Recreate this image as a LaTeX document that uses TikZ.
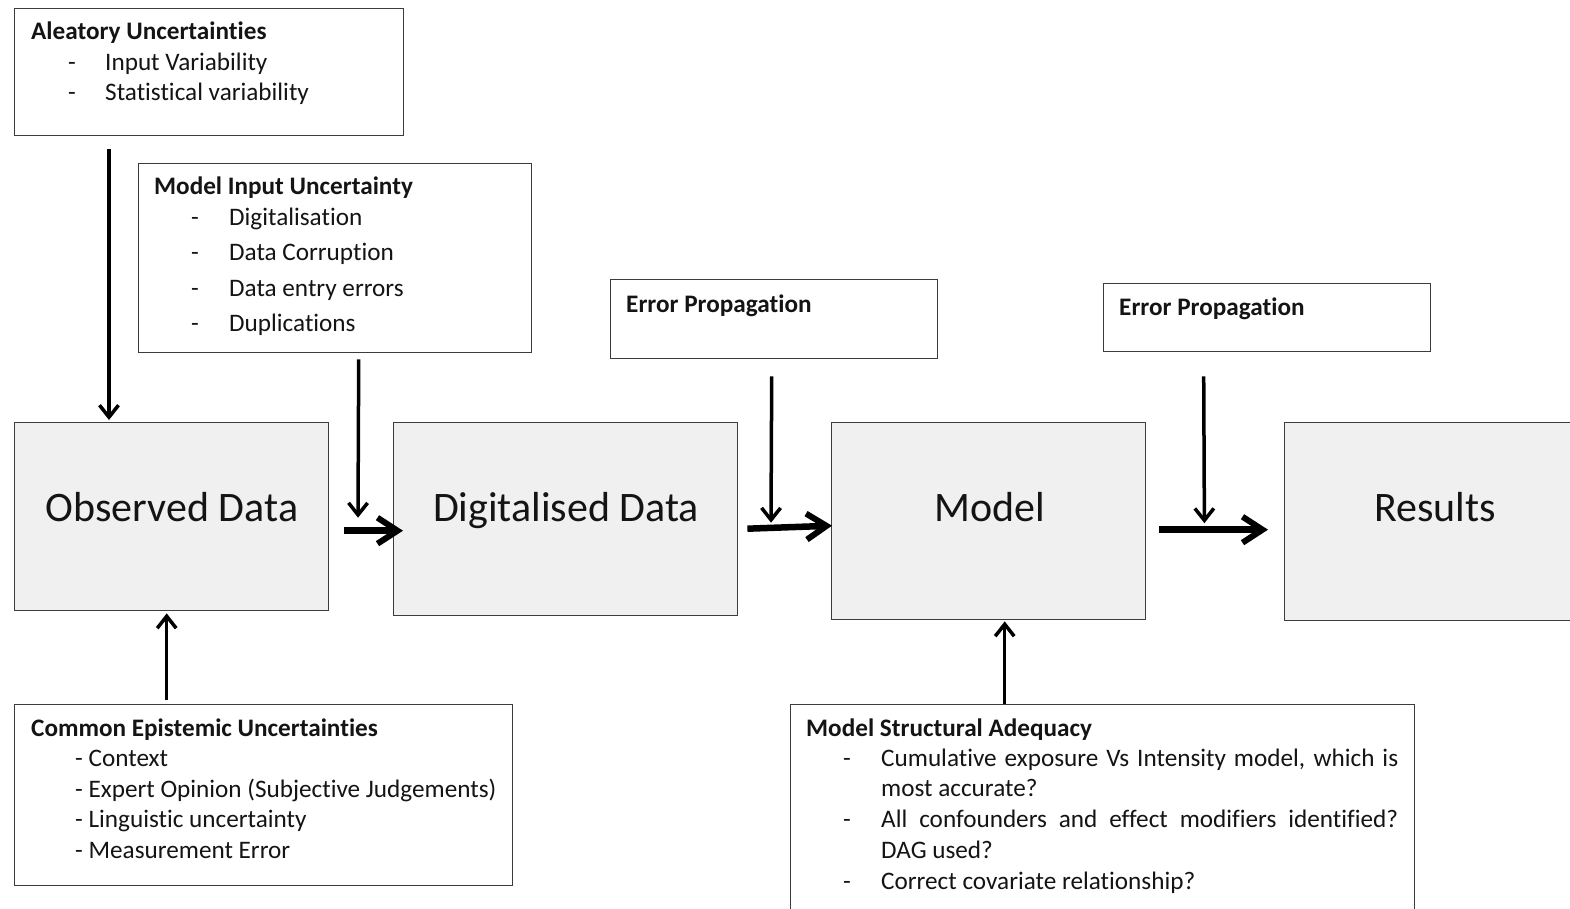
\documentclass[tikz,border=0pt]{standalone}
\usepackage{fontspec}
\setmainfont{Carlito}[Ligatures={NoCommon}]
\usetikzlibrary{arrows.meta}
\definecolor{boxfill}{HTML}{F0F0F0}
\definecolor{boxline}{HTML}{3C3C3C}
\definecolor{ink}{HTML}{141414}
\begin{document}
\begin{tikzpicture}[x=1pt,y=-1pt,
  frame/.style={draw=boxline, line width=1.4pt, inner sep=0pt, anchor=north west},
  gbox/.style={frame, fill=boxfill},
  txt/.style={anchor=base west, inner sep=0pt, text=ink, font=\fontsize{25.2}{29}\selectfont},
  ttl/.style={anchor=base west, inner sep=0pt, text=ink, font=\fontsize{25.2}{29}\selectfont\bfseries},
  bigtxt/.style={anchor=base, inner sep=0pt, text=ink, font=\fontsize{42}{50}\selectfont},
  thinarrow/.style={line width=3.5pt, -{Straight Barb[length=12pt,width=19pt,line width=3.5pt]}},
  thickarrow/.style={line width=6.5pt, -{Straight Barb[length=20pt,width=26pt,line width=6pt]}},
]
\useasboundingbox (0,0) rectangle (1570,909);
\clip (0,0) rectangle (1570,909);
\fill[white] (0,0) rectangle (1570,909);

% ---- boxes
\node[frame, minimum width=389pt, minimum height=127pt] (alea) at (14,8) {};
\node[frame, minimum width=393pt, minimum height=189pt] (minput) at (138,163) {};
\node[frame, minimum width=327pt, minimum height=79pt] (ep1) at (610,279) {};
\node[frame, minimum width=327pt, minimum height=68pt] (ep2) at (1103,283) {};
\node[gbox, minimum width=314pt, minimum height=188pt] (obs) at (14,422) {};
\node[gbox, minimum width=344pt, minimum height=193pt] (dig) at (393,422) {};
\node[gbox, minimum width=314pt, minimum height=197pt] (model) at (831,422) {};
\node[gbox, minimum width=310pt, minimum height=198pt] (res) at (1284,422) {};
\node[frame, minimum width=498pt, minimum height=181pt] (common) at (14,704) {};
\node[frame, minimum width=624pt, minimum height=230pt] (struct) at (790,704) {};

% ---- big labels
\node[bigtxt] (obsl) at (172,521.5) {Observed Data};
\node[bigtxt] (digl) at (566,521.5) {Digitalised Data};
\node[bigtxt] (modell) at (990,521.5) {Model};
\node[bigtxt] (resl) at (1435,521.5) {Results};

% ---- aleatory
\node[ttl] (aleat) at (31,40) {Aleatory Uncertainties};
\node[txt] (alead1) at (68,71) {-};
\node[txt] (aleai1) at (105,71) {Input Variability};
\node[txt] (alead2) at (68,101) {-};
\node[txt] (aleai2) at (105,101) {Statistical variability};

% ---- model input
\node[ttl] (mit) at (154,195) {Model Input Uncertainty};
\node[txt] (mid1) at (191,226) {-};
\node[txt] (mii1) at (229,226) {Digitalisation};
\node[txt] (mid2) at (191,261) {-};
\node[txt] (mii2) at (229,261) {Data Corruption};
\node[txt] (mid3) at (191,296) {-};
\node[txt] (mii3) at (229,296) {Data entry errors};
\node[txt] (mid4) at (191,331) {-};
\node[txt] (mii4) at (229,331) {Duplications};

% ---- error propagation
\node[ttl] (ep1t) at (626,312) {Error Propagation};
\node[ttl] (ep2t) at (1119,315) {Error Propagation};

% ---- common epistemic
\node[ttl] (comt) at (31,736) {Common Epistemic Uncertainties};
\node[txt] (comi1) at (75,766) {- Context};
\node[txt] (comi2) at (75,797) {- Expert Opinion (Subjective Judgements)};
\node[txt] (comi3) at (75,827) {- Linguistic uncertainty};
\node[txt] (comi4) at (75,858) {- Measurement Error};

% ---- model structural adequacy
\node[ttl] (strt) at (806,736) {Model Structural Adequacy};
\node[txt] (strd1) at (843,766) {-};
\node[txt] (stri1) at (881,766) {\makebox[517pt][s]{Cumulative exposure Vs Intensity model, which is}};
\node[txt] (stri1b) at (881,796) {most accurate?};
\node[txt] (strd2) at (843,827) {-};
\node[txt] (stri2) at (881,827) {\makebox[517pt][s]{All confounders and effect modifiers identified?}};
\node[txt] (stri2b) at (881,858) {DAG used?};
\node[txt] (strd3) at (843,889) {-};
\node[txt] (stri3) at (881,889) {Correct covariate relationship?};

% ---- arrows
\draw[thinarrow] ([shift={(95pt,-13pt)}]alea.south west) -- ([shift={(95pt,2pt)}]obs.north west);
\draw[thinarrow] ([shift={(23.5pt,-6pt)}]minput.south) -- ([shift={(-35pt,1.5pt)}]dig.west);
\draw[thickarrow] ([shift={(15pt,-14pt)}]obs.east) -- ([shift={(10pt,-11.5pt)}]dig.west);
\draw[thinarrow] ([shift={(-2.5pt,-17pt)}]ep1.south) -- ([shift={(-60pt,-1.5pt)}]model.west);
\draw[thickarrow] ([shift={(9pt,-9.5pt)}]dig.east) -- ([shift={(1pt,-4.5pt)}]model.west);
\draw[thinarrow] ([shift={(-63.5pt,-24pt)}]ep2.south) -- ([shift={(58pt,-2pt)}]model.east);
\draw[thickarrow] ([shift={(13pt,-8.5pt)}]model.east) -- ([shift={(-16pt,-8pt)}]res.west);
\draw[thinarrow] ([shift={(-97pt,4pt)}]common.north) -- ([shift={(-5pt,-2pt)}]obs.south);
\draw[thinarrow] ([shift={(-98pt,0pt)}]struct.north) -- ([shift={(16pt,-1pt)}]model.south);
\end{tikzpicture}
\end{document}
